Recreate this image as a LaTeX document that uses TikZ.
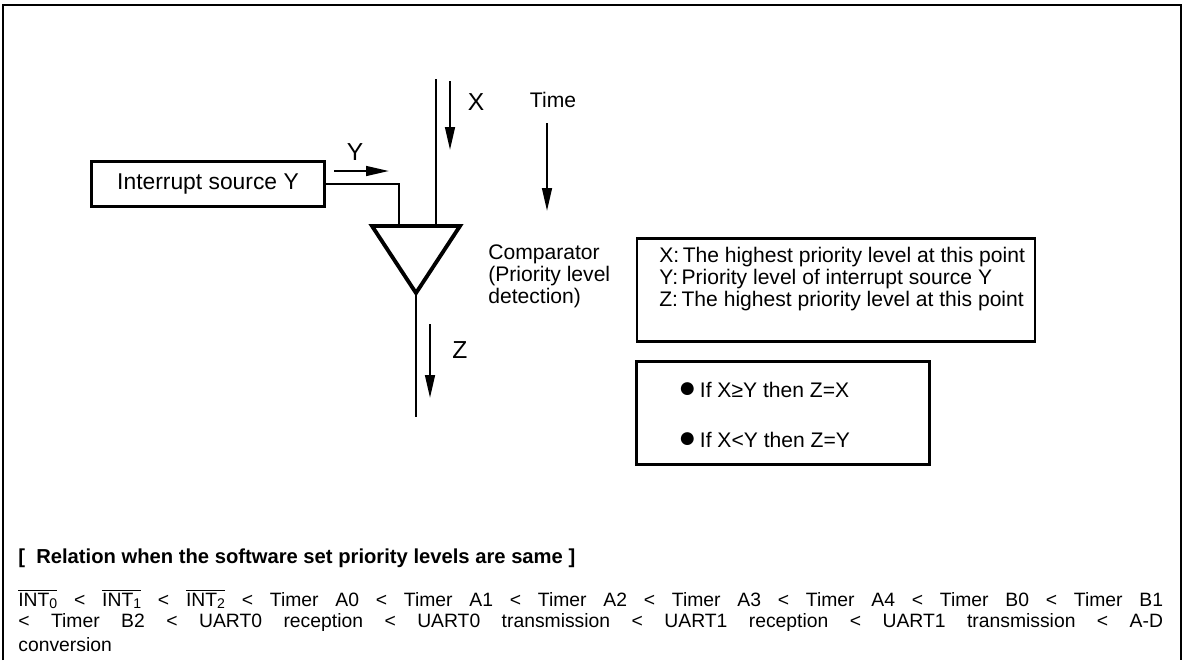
\documentclass[tikz,border=0pt]{standalone}
\usepackage{fontspec}
\setmainfont{Liberation Sans}
\usetikzlibrary{positioning, arrows.meta}

\newcommand{\intbar}[1]{$\overline{\hbox{INT\raisebox{-0.25ex}{\footnotesize #1}}}$}
\newcommand{\dotmark}{{\fontsize{17}{17}\selectfont ●}}

\begin{document}
\begin{tikzpicture}[x=0.02cm,y=-0.02cm,>={Triangle[length=13pt,width=5.5pt]},
    sig/.style={line width=1.3pt},
    tick/.style={->,line width=1.3pt},
    block/.style={draw,line width=2.2pt,minimum width=4.66cm,minimum height=0.9cm,inner sep=0pt},
    legend/.style={draw,line width=1.2pt,minimum height=2.06cm,inner sep=0pt},
    lbl/.style={font=\fontsize{14}{16}\selectfont,inner sep=0pt},
    txt/.style={font=\fontsize{12}{12.5}\selectfont,inner sep=0pt,align=left}]
    \useasboundingbox (0,0) rectangle (1186,660);

    % outer frame, open at the bottom
    \draw[line width=1.2pt] (3,660) |- (1181,5) -- (1181,660);

    % source and comparator
    \node[block,txt,font=\fontsize{13}{15}\selectfont] (src) at (208,184) {Interrupt source Y};
    \coordinate (cmpL) at (372,226);
    \coordinate (cmpR) at (460,226);
    \coordinate (cmpB) at (416,293);
    \coordinate (cmpY) at (399,226);
    \coordinate (cmpX) at (436,226);
    \draw[line width=2.2pt,line join=miter] (cmpL) -- (cmpR) -- (cmpB) -- cycle;

    \coordinate (xin) at (436,79);
    \coordinate (zout) at (416,417);
    \draw[sig] (src.east) -| (cmpY);
    \draw[sig] (xin) -- (cmpX);
    \draw[sig] (cmpB) -- (zout);

    % flow arrows
    \coordinate (xa1) at (450,81);  \coordinate (xa2) at (450,150);
    \coordinate (ya1) at (334,171); \coordinate (ya2) at (389,171);
    \coordinate (za1) at (430,324); \coordinate (za2) at (430,398);
    \coordinate (ta1) at (547,123); \coordinate (ta2) at (547,211);
    \draw[tick] (xa1) -- (xa2);
    \draw[tick] (ya1) -- (ya2);
    \draw[tick] (za1) -- (za2);
    \draw[tick] (ta1) -- (ta2);
    \node[lbl] (xl) at (476,102) {X};
    \node[lbl] (yl) at (355,152) {Y};
    \node[lbl] (zl) at (460,350) {Z};
    \node[txt] (time) at (553,100) {Time};

    \node[txt,anchor=west] (cmp) at (488,276)
        {Comparator\\(Priority level\\detection)};

    % legend boxes
    \node[legend,minimum width=7.96cm] (keys) at (836,290) {};
    \node[txt,anchor=west] (keytxt) at (659,279)
        {X:\,The highest priority level at this point\\
         Y:\,Priority level of interrupt source Y\\
         Z:\,The highest priority level at this point};
    \node[legend,minimum width=5.86cm] (rules) at (783,413) {};
    \node[txt,anchor=west,font=\fontsize{12}{28.5}\selectfont] (ruletxt) at (678,415)
        {\dotmark\,If X≥Y then Z=X\\\dotmark\,If X<Y then Z=Y};

    % priority relation
    \node[txt,anchor=west,font=\bfseries\fontsize{11.5}{13.6}\selectfont] (head) at (18,558)
        {[\ \ Relation when the software set priority levels are same\ ]};
    \node[txt,anchor=west,font=\fontsize{11}{13}\selectfont] (rel1) at (18,599)
        {\makebox[22.9cm][s]{\intbar{0} < \intbar{1} < \intbar{2} < Timer A0 < Timer A1 < Timer A2 < Timer A3 < Timer A4 < Timer B0 < Timer B1}};
    \node[txt,anchor=west,font=\fontsize{11}{13}\selectfont] (rel2) at (18,622)
        {\makebox[22.9cm][s]{< Timer B2 < UART0 reception < UART0 transmission < UART1 reception < UART1 transmission < A-D}};
    \node[txt,anchor=west,font=\fontsize{11}{13}\selectfont] (rel3) at (18,645) {conversion};
\end{tikzpicture}
\end{document}
